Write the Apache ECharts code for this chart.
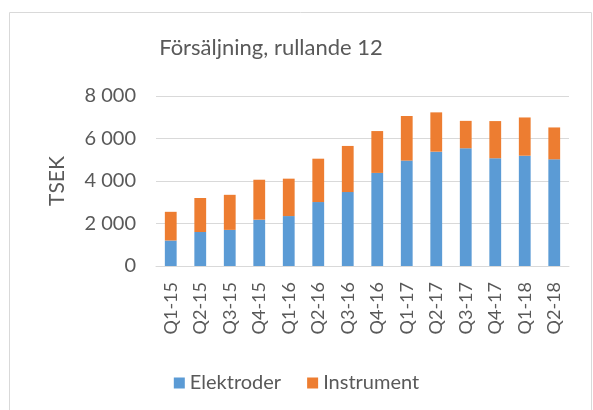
<!DOCTYPE html>
<html><head><meta charset="utf-8">
<script src="https://cdn.jsdelivr.net/npm/echarts@6/dist/echarts.min.js"></script>
<style>html,body{margin:0;padding:0;background:#fff}#c{width:593px;height:410px}</style>
</head><body><div id="c"></div>
<script>
const categories = ["Q1-15","Q2-15","Q3-15","Q4-15","Q1-16","Q2-16","Q3-16","Q4-16","Q1-17","Q2-17","Q3-17","Q4-17","Q1-18","Q2-18"];
const elektroder = [1200,1600,1700,2180,2350,3010,3480,4380,4960,5380,5540,5070,5190,5020];
const instrument = [1350,1600,1650,1880,1760,2040,2170,1970,2100,1850,1290,1750,1800,1500];
const yTicks = [0,2000,4000,6000,8000];

const FONT = 'Lato, "Open Sans", sans-serif';
const chart = echarts.init(document.getElementById('c'), null, {renderer:'canvas'});
chart.setOption({
  animation:false,
  textStyle:{fontFamily:FONT},
  graphic:[{type:'rect', shape:{x:9.5,y:12.5,width:582,height:420}, style:{fill:'none', stroke:'#d9d9d9', lineWidth:1}, silent:true}],
  title:{text:'Försäljning, rullande 12', left:266, top:32, textAlign:'center',
    textStyle:{fontFamily:FONT, fontSize:22, fontWeight:'normal', color:'#595959'}},
  grid:{left:156, right:24, top:96, bottom:144, containLabel:false},
  legend:{top:368, left:'center', itemWidth:11, itemHeight:11, itemGap:26, icon:'rect',
    textStyle:{fontFamily:FONT, fontSize:20, color:'#595959'}, data:['Elektroder','Instrument']},
  xAxis:{type:'category', data:categories,
    axisLine:{show:true, lineStyle:{color:'#d9d9d9'}}, axisTick:{show:false},
    axisLabel:{rotate:90, fontFamily:FONT, fontSize:18, color:'#595959', margin:16}},
  yAxis:{type:'value', min:0, max:8000, interval:2000, name:'TSEK', nameLocation:'middle', nameGap:88,
    nameTextStyle:{fontFamily:FONT, fontSize:21, color:'#595959'},
    axisLine:{show:false}, axisTick:{show:false},
    splitLine:{lineStyle:{color:'#d9d9d9'}},
    axisLabel:{fontFamily:FONT, fontSize:20, color:'#595959', margin:20,
      formatter:v => yTicks.includes(v) ? (v>=1000 ? Math.floor(v/1000)+' '+String(v%1000).padStart(3,'0') : String(v)) : ''}},
  series:[
    {name:'Elektroder', type:'bar', stack:'s', data:elektroder, barWidth:'40%', itemStyle:{color:'#5b9bd5'}},
    {name:'Instrument', type:'bar', stack:'s', data:instrument, barWidth:'40%', itemStyle:{color:'#ed7d31'}}
  ]
});
</script></body></html>
